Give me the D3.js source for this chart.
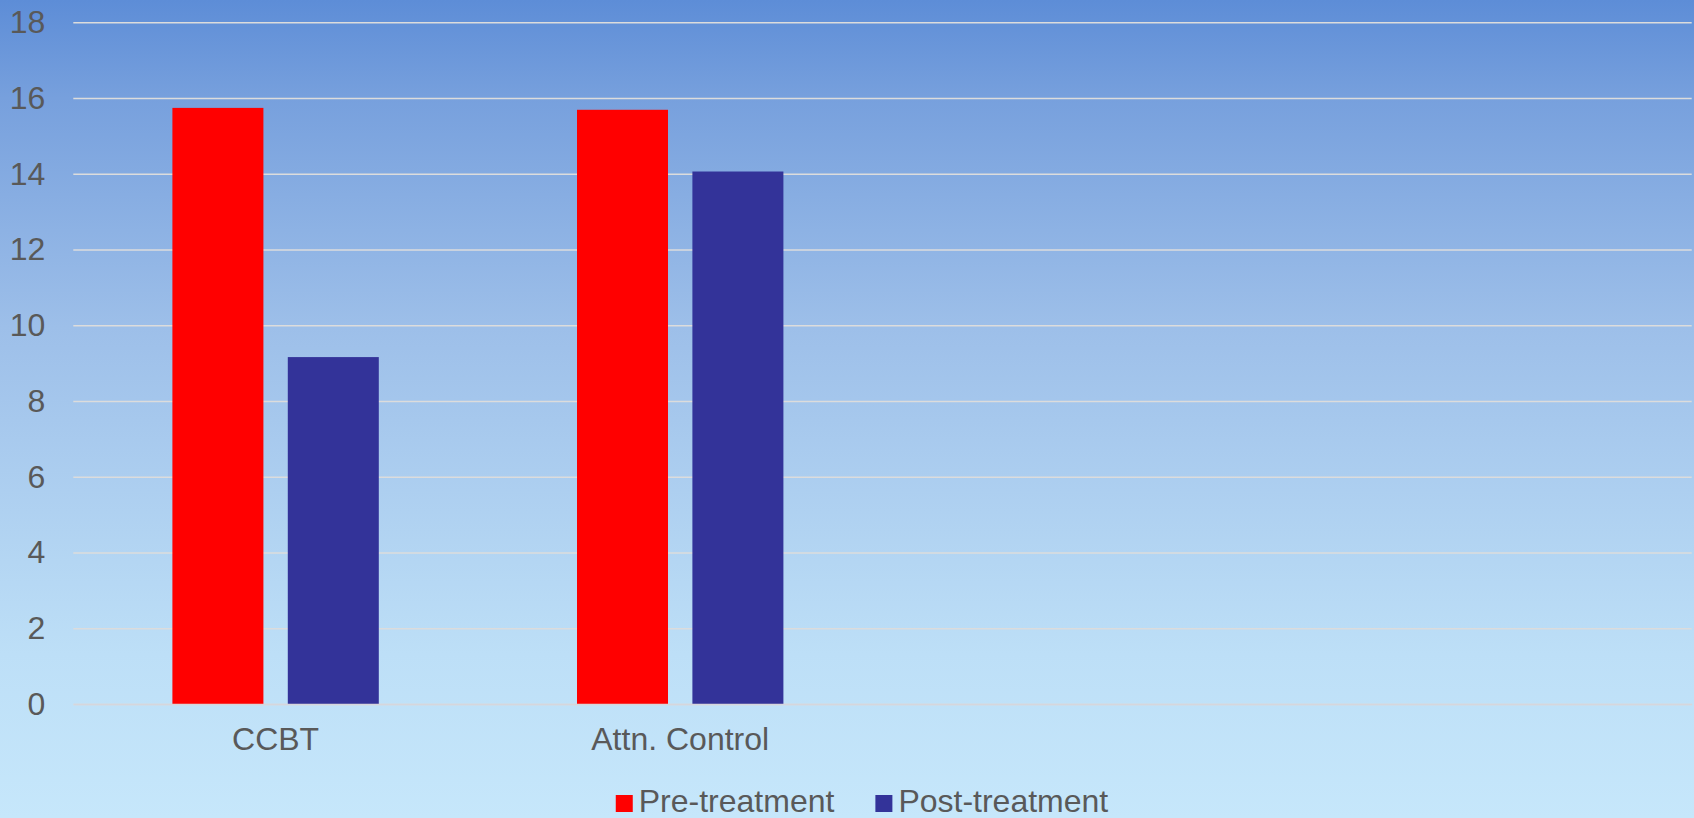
<!DOCTYPE html>
<html>
<head>
  <meta charset="utf-8">
  <script src="https://d3js.org/d3.v7.min.js"></script>
  <style>
    body { margin: 0; }
    text { font-family: "Liberation Sans", Arial, sans-serif; fill: #595959; }
  </style>
</head>
<body>
  <div id="my_dataviz"></div>
<script>

  // data
  var categories = ["CCBT", "Attn. Control", "", ""];
  var series = ["Pre-treatment", "Post-treatment"];
  var preValues = [15.74, 15.69, null, null];
  var postValues = [9.16, 14.06, null, null];
  var yTicks = [0, 2, 4, 6, 8, 10, 12, 14, 16, 18];
  var colors = ["#ff0000", "#333399"];

  var W = 1694, H = 818;
  var plot = {left: 73.3, right: 1691.7, top: 22.3, bottom: 704};

  var svg = d3.select("#my_dataviz")
    .append("svg")
      .attr("width", W)
      .attr("height", H);

  // background gradient
  var grad = svg.append("defs").append("linearGradient")
      .attr("id", "bg")
      .attr("x1", 0).attr("y1", 0).attr("x2", 0).attr("y2", 1);
  [[0, "#5d8dd7"], [0.12, "#77a0dd"], [0.4, "#9dbfe9"], [0.8, "#bddff7"], [1, "#c6e7fb"]]
    .forEach(function(s) {
      grad.append("stop").attr("offset", s[0]).attr("stop-color", s[1]);
    });
  svg.append("rect").attr("width", W).attr("height", H).attr("fill", "url(#bg)");

  var y = d3.scaleLinear().domain([0, 18]).range([plot.bottom, plot.top]);

  var x0 = d3.scaleBand()
      .domain(d3.range(categories.length))
      .range([plot.left, plot.right]);

  var groupW = 206.4;
  var x1 = d3.scaleBand()
      .domain(d3.range(series.length))
      .range([-groupW / 2, groupW / 2])
      .paddingInner(0.2114);

  // gridlines + y labels
  var yAxis = svg.append("g")
      .attr("transform", "translate(" + plot.left + ",0)")
      .call(d3.axisLeft(y).tickValues(yTicks).tickSize(-(plot.right - plot.left)).tickPadding(28));
  yAxis.select(".domain").remove();
  yAxis.selectAll(".tick line")
      .attr("stroke", "#dcdcdc")
      .attr("stroke-width", 1.5);
  yAxis.selectAll(".tick text")
      .style("font-size", "32px")
      .attr("fill", "#595959");

  // bars
  var rows = [preValues, postValues];
  rows.forEach(function(vals, si) {
    svg.append("g").selectAll("rect")
      .data(vals.map(function(v, i) { return {i: i, v: v}; }).filter(function(d) { return d.v != null; }))
      .enter().append("rect")
        .attr("x", function(d) { return x0(d.i) + x0.bandwidth() / 2 + x1(si); })
        .attr("width", x1.bandwidth())
        .attr("y", function(d) { return y(d.v); })
        .attr("height", function(d) { return y(0) - y(d.v); })
        .attr("fill", colors[si]);
  });

  // x axis
  var xAxis = svg.append("g")
      .attr("transform", "translate(0," + plot.bottom + ")")
      .call(d3.axisBottom(x0).tickSize(0).tickPadding(23).tickFormat(function(i) { return categories[i]; }));
  xAxis.select(".domain").attr("stroke", "#d6d6dc").attr("stroke-width", 1.5);
  xAxis.selectAll(".tick text")
      .style("font-size", "32px")
      .attr("fill", "#595959");

  // legend
  var legend = svg.append("g");
  var items = legend.selectAll("g").data(series).enter().append("g");
  items.append("rect")
      .attr("width", 17).attr("height", 17)
      .attr("y", 795)
      .attr("fill", function(d, i) { return colors[i]; });
  items.append("text")
      .attr("x", 23)
      .attr("y", 812)
      .style("font-size", "32px")
      .text(function(d) { return d; });
  var xpos = 0;
  items.each(function() {
    var t = d3.select(this).select("text").node().getComputedTextLength();
    d3.select(this).attr("transform", "translate(" + xpos + ",0)");
    xpos += 23 + t + 41;
  });
  var totalW = xpos - 41;
  legend.attr("transform", "translate(" + (862 - totalW / 2) + ",0)");

</script>
</body>
</html>
